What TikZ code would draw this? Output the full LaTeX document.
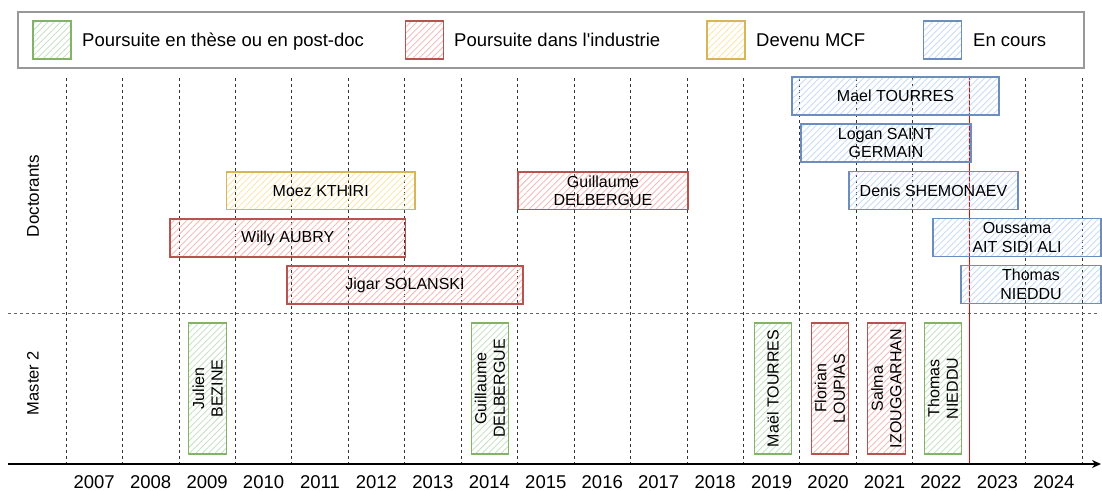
\documentclass[tikz,border=0pt]{standalone}
\usepackage{fontspec}
\setmainfont{Liberation Sans}
\usepackage{tikz}
\usetikzlibrary{arrows.meta, patterns.meta}

\definecolor{greenline}{HTML}{82B366}
\definecolor{greenfill}{HTML}{C9E2C6}
\definecolor{redline}{HTML}{B85450}
\definecolor{redfill}{HTML}{F4BDBB}
\definecolor{yellowline}{HTML}{D6B656}
\definecolor{yellowfill}{HTML}{FBE7B0}
\definecolor{blueline}{HTML}{6C8EBF}
\definecolor{bluefill}{HTML}{C9DCF6}

\tikzset{
    box/.style={draw, line width=1.4pt, inner sep=0pt, align=center,
        font=\fontsize{16}{18.5}\selectfont,
        pattern={Lines[angle=45,distance=4.5pt,line width=0.9pt]}},
    these/.style={box, draw=greenline, pattern color=greenfill},
    industrie/.style={box, draw=redline, pattern color=redfill},
    mcf/.style={box, draw=yellowline, pattern color=yellowfill},
    encours/.style={box, draw=blueline, pattern color=bluefill},
    swatch/.style={minimum width=38pt, minimum height=38pt},
    master/.style={rotate=90, minimum width=131pt, minimum height=37.5pt},
    legtext/.style={anchor=base west, inner sep=0pt, font=\fontsize{18.5}{22}\selectfont},
    year/.style={anchor=base, inner sep=0pt, font=\fontsize{18.5}{22}\selectfont},
    grid/.style={black!80, line width=0.8pt, dash pattern=on 3pt off 3pt}
}

\begin{document}
\begin{tikzpicture}[x=1pt, y=-1pt]
        \useasboundingbox (0,0) rectangle (1102,490);

        % legende
        \node[draw=black!40, line width=1.2pt, minimum width=1066pt, minimum height=56pt] (legende) at (551,40) {};
        \node[these, swatch] (lg1) at (52,40) {};
        \node[legtext] (lt1) at (82,46) {Poursuite en thèse ou en post-doc};
        \node[industrie, swatch] (lg2) at (424.5,40) {};
        \node[legtext] (lt2) at (454,46) {Poursuite dans l\textquotesingle industrie};
        \node[mcf, swatch] (lg3) at (726,40) {};
        \node[legtext] (lt3) at (756,46) {Devenu MCF};
        \node[encours, swatch] (lg4) at (942.5,40) {};
        \node[legtext] (lt4) at (973,46) {En cours};

        % grille des annees
        \foreach \k in {0,...,18}
            \draw[grid] (66+56.45*\k,78) -- (66+56.45*\k,467);
        \foreach \k [evaluate=\k as \an using int(2007+\k)] in {0,...,17}
            \node[year] (y\k) at (94.2+56.45*\k,488) {\an};

        \draw[black!60, line width=1pt, dash pattern=on 3pt off 3pt] (8,313) -- (1098,313);
        \draw[red, line width=1pt] (969.2,78) -- (969.2,464);

        \coordinate (debut) at (8,464);
        \coordinate (fin) at (1101,464);
        \draw[line width=1.5pt, -{Stealth[length=9pt,width=8pt]}] (debut) -- (fin);

        \node[rotate=90, font=\fontsize{17}{20}\selectfont] (doc) at (33,196) {Doctorants};
        \node[rotate=90, font=\fontsize{16.5}{20}\selectfont] (m2) at (33,383) {Master 2};

        % doctorants
        \node[mcf, minimum width=188.5pt, minimum height=37.5pt] (moez) at (320.75,190.75) {Moez KTHIRI};
        \node[industrie, minimum width=235.5pt, minimum height=38pt] (willy) at (287.75,238) {Willy AUBRY};
        \node[industrie, minimum width=236pt, minimum height=38pt] (jigar) at (405,285) {Jigar SOLANSKI};
        \node[industrie, minimum width=170pt, minimum height=37.5pt] (guillaume) at (603,190.75) {Guillaume\\DELBERGUE};
        \node[encours, minimum width=207pt, minimum height=38pt] (mael) at (895.5,96) {Mael TOURRES};
        \node[encours, minimum width=170pt, minimum height=38pt] (logan) at (886,143) {Logan SAINT\\GERMAIN};
        \node[encours, minimum width=169pt, minimum height=37.5pt] (denis) at (933.5,190.5) {Denis SHEMONAEV};
        \node[encours, minimum width=168pt, minimum height=37.5pt] (oussama) at (1017,237.5) {Oussama\\AIT SIDI ALI};
        \node[encours, minimum width=140pt, minimum height=37.5pt] (thomas) at (1031,284.5) {Thomas\\NIEDDU};

        % master 2
        \node[these, master] (julien) at (207.5,388.5) {Julien\\BEZINE};
        \node[these, master] (guillaumem) at (490,388.5) {Guillaume\\DELBERGUE};
        \node[these, master] (maelm) at (773,388.5) {Maël TOURRES};
        \node[industrie, master] (florian) at (830,388.5) {Florian\\LOUPIAS};
        \node[industrie, master] (salma) at (886.5,388.5) {Salma\\IZOUGGARHAN};
        \node[these, master] (thomasm) at (943,388.5) {Thomas\\NIEDDU};

    \end{tikzpicture}
\end{document}
